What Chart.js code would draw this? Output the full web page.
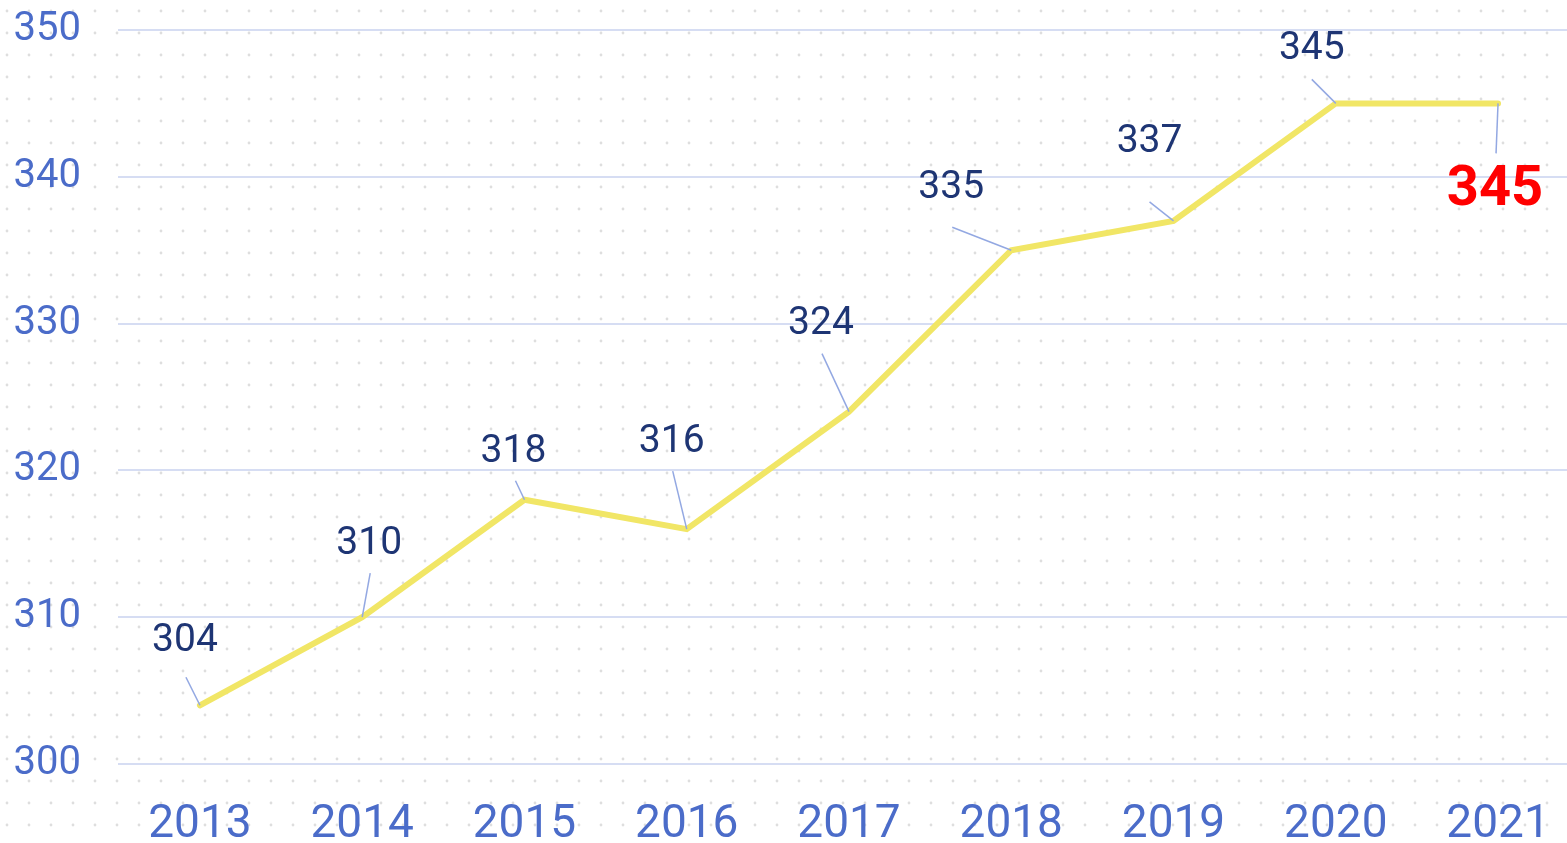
<!DOCTYPE html>
<html>
<head>
<meta charset="utf-8">
<script src="https://cdn.jsdelivr.net/npm/chart.js@4.4.0/dist/chart.umd.min.js"></script>
<style>
  html, body { margin: 0; padding: 0; background: #fff; }
  #wrap { width: 1567px; height: 843px; position: relative; }
</style>
</head>
<body>
<div id="wrap"><canvas id="line-chart"></canvas></div>
<script>
const years = [2013, 2014, 2015, 2016, 2017, 2018, 2019, 2020, 2021];
const values = [304, 310, 318, 316, 324, 335, 337, 345, 345];
const yTicks = [300, 310, 320, 330, 340, 350];

// label placement relative to each point: [label dx, label dy, line end dx, line end dy]
const labelOffsets = [
  [-15, -64, -14, -28],
  [7, -73, 8, -44],
  [-11, -48, -9, -19],
  [-15, -87, -14, -58],
  [-28, -87, -27, -58],
  [-60, -62, -59, -23],
  [-24, -79, -24, -19],
  [-24, -54, -24, -24],
  [-3, 88, -2, 50],
];

const dotBackground = {
  id: "dotBackground",
  beforeDraw(chart) {
    const ctx = chart.ctx;
    ctx.save();
    ctx.fillStyle = "#fff";
    ctx.fillRect(0, 0, chart.width, chart.height);
    ctx.fillStyle = "#dedede";
    for (let y = 11; y < chart.height; y += 22) {
      for (let x = 7; x < chart.width; x += 22) {
        ctx.beginPath();
        ctx.arc(x, y, 1.4, 0, Math.PI * 2);
        ctx.fill();
      }
    }
    ctx.restore();
  },
};

const pointLabels = {
  id: "pointLabels",
  afterDatasetsDraw(chart) {
    const ctx = chart.ctx;
    const meta = chart.getDatasetMeta(0);
    ctx.save();
    meta.data.forEach((pt, i) => {
      const o = labelOffsets[i];
      const last = i === values.length - 1;
      ctx.strokeStyle = "#93a8e2";
      ctx.lineWidth = 1.5;
      ctx.beginPath();
      ctx.moveTo(pt.x, pt.y);
      ctx.lineTo(pt.x + o[2], pt.y + o[3]);
      ctx.stroke();
      ctx.textAlign = "center";
      ctx.textBaseline = "middle";
      ctx.fillStyle = last ? "#ff0000" : "#1e3574";
      ctx.font = last ? "bold 56px Roboto" : "39px Roboto";
      ctx.fillText(String(values[i]), pt.x + o[0], pt.y + o[1]);
    });
    ctx.restore();
  },
};

const ctx = document.getElementById("line-chart").getContext("2d");
window.myLine = new Chart(ctx, {
  type: "line",
  data: {
    datasets: [
      {
        data: years.map((yr, i) => ({ x: yr, y: values[i] })),
        borderColor: "#f1e666",
        borderWidth: 6,
        borderCapStyle: "round",
        pointRadius: 0,
        tension: 0,
      },
    ],
  },
  options: {
    responsive: true,
    maintainAspectRatio: false,
    animation: false,
    layout: { padding: { top: 30, right: 0, left: 0, bottom: 0 } },
    plugins: { legend: { display: false }, tooltip: { enabled: false } },
    scales: {
      x: {
        type: "linear",
        min: 2012.495,
        max: 2021.425,
        afterBuildTicks: (s) => { s.ticks = years.map((v) => ({ value: v })); },
        afterFit: (s) => {
          s.height = 79;
          s.paddingLeft = 0;
          s.paddingRight = 0;
        },
        grid: { display: false },
        border: { display: false },
        ticks: {
          color: "#4b6cc9",
          font: { family: "Roboto", size: 46 },
          padding: 26,
          callback: (v) => String(v),
        },
      },
      y: {
        min: 300,
        max: 350,
        afterBuildTicks: (s) => { s.ticks = yTicks.map((v) => ({ value: v })); },
        afterFit: (s) => {
          s.width = 118;
          s.paddingTop = 0;
          s.paddingBottom = 0;
        },
        grid: { color: "#d6ddf3", lineWidth: 2, drawTicks: false },
        border: { display: false },
        ticks: {
          color: "#4b6cc9",
          font: { family: "Roboto", size: 40 },
          padding: 37,
        },
      },
    },
  },
  plugins: [dotBackground, pointLabels],
});
</script>
</body>
</html>
